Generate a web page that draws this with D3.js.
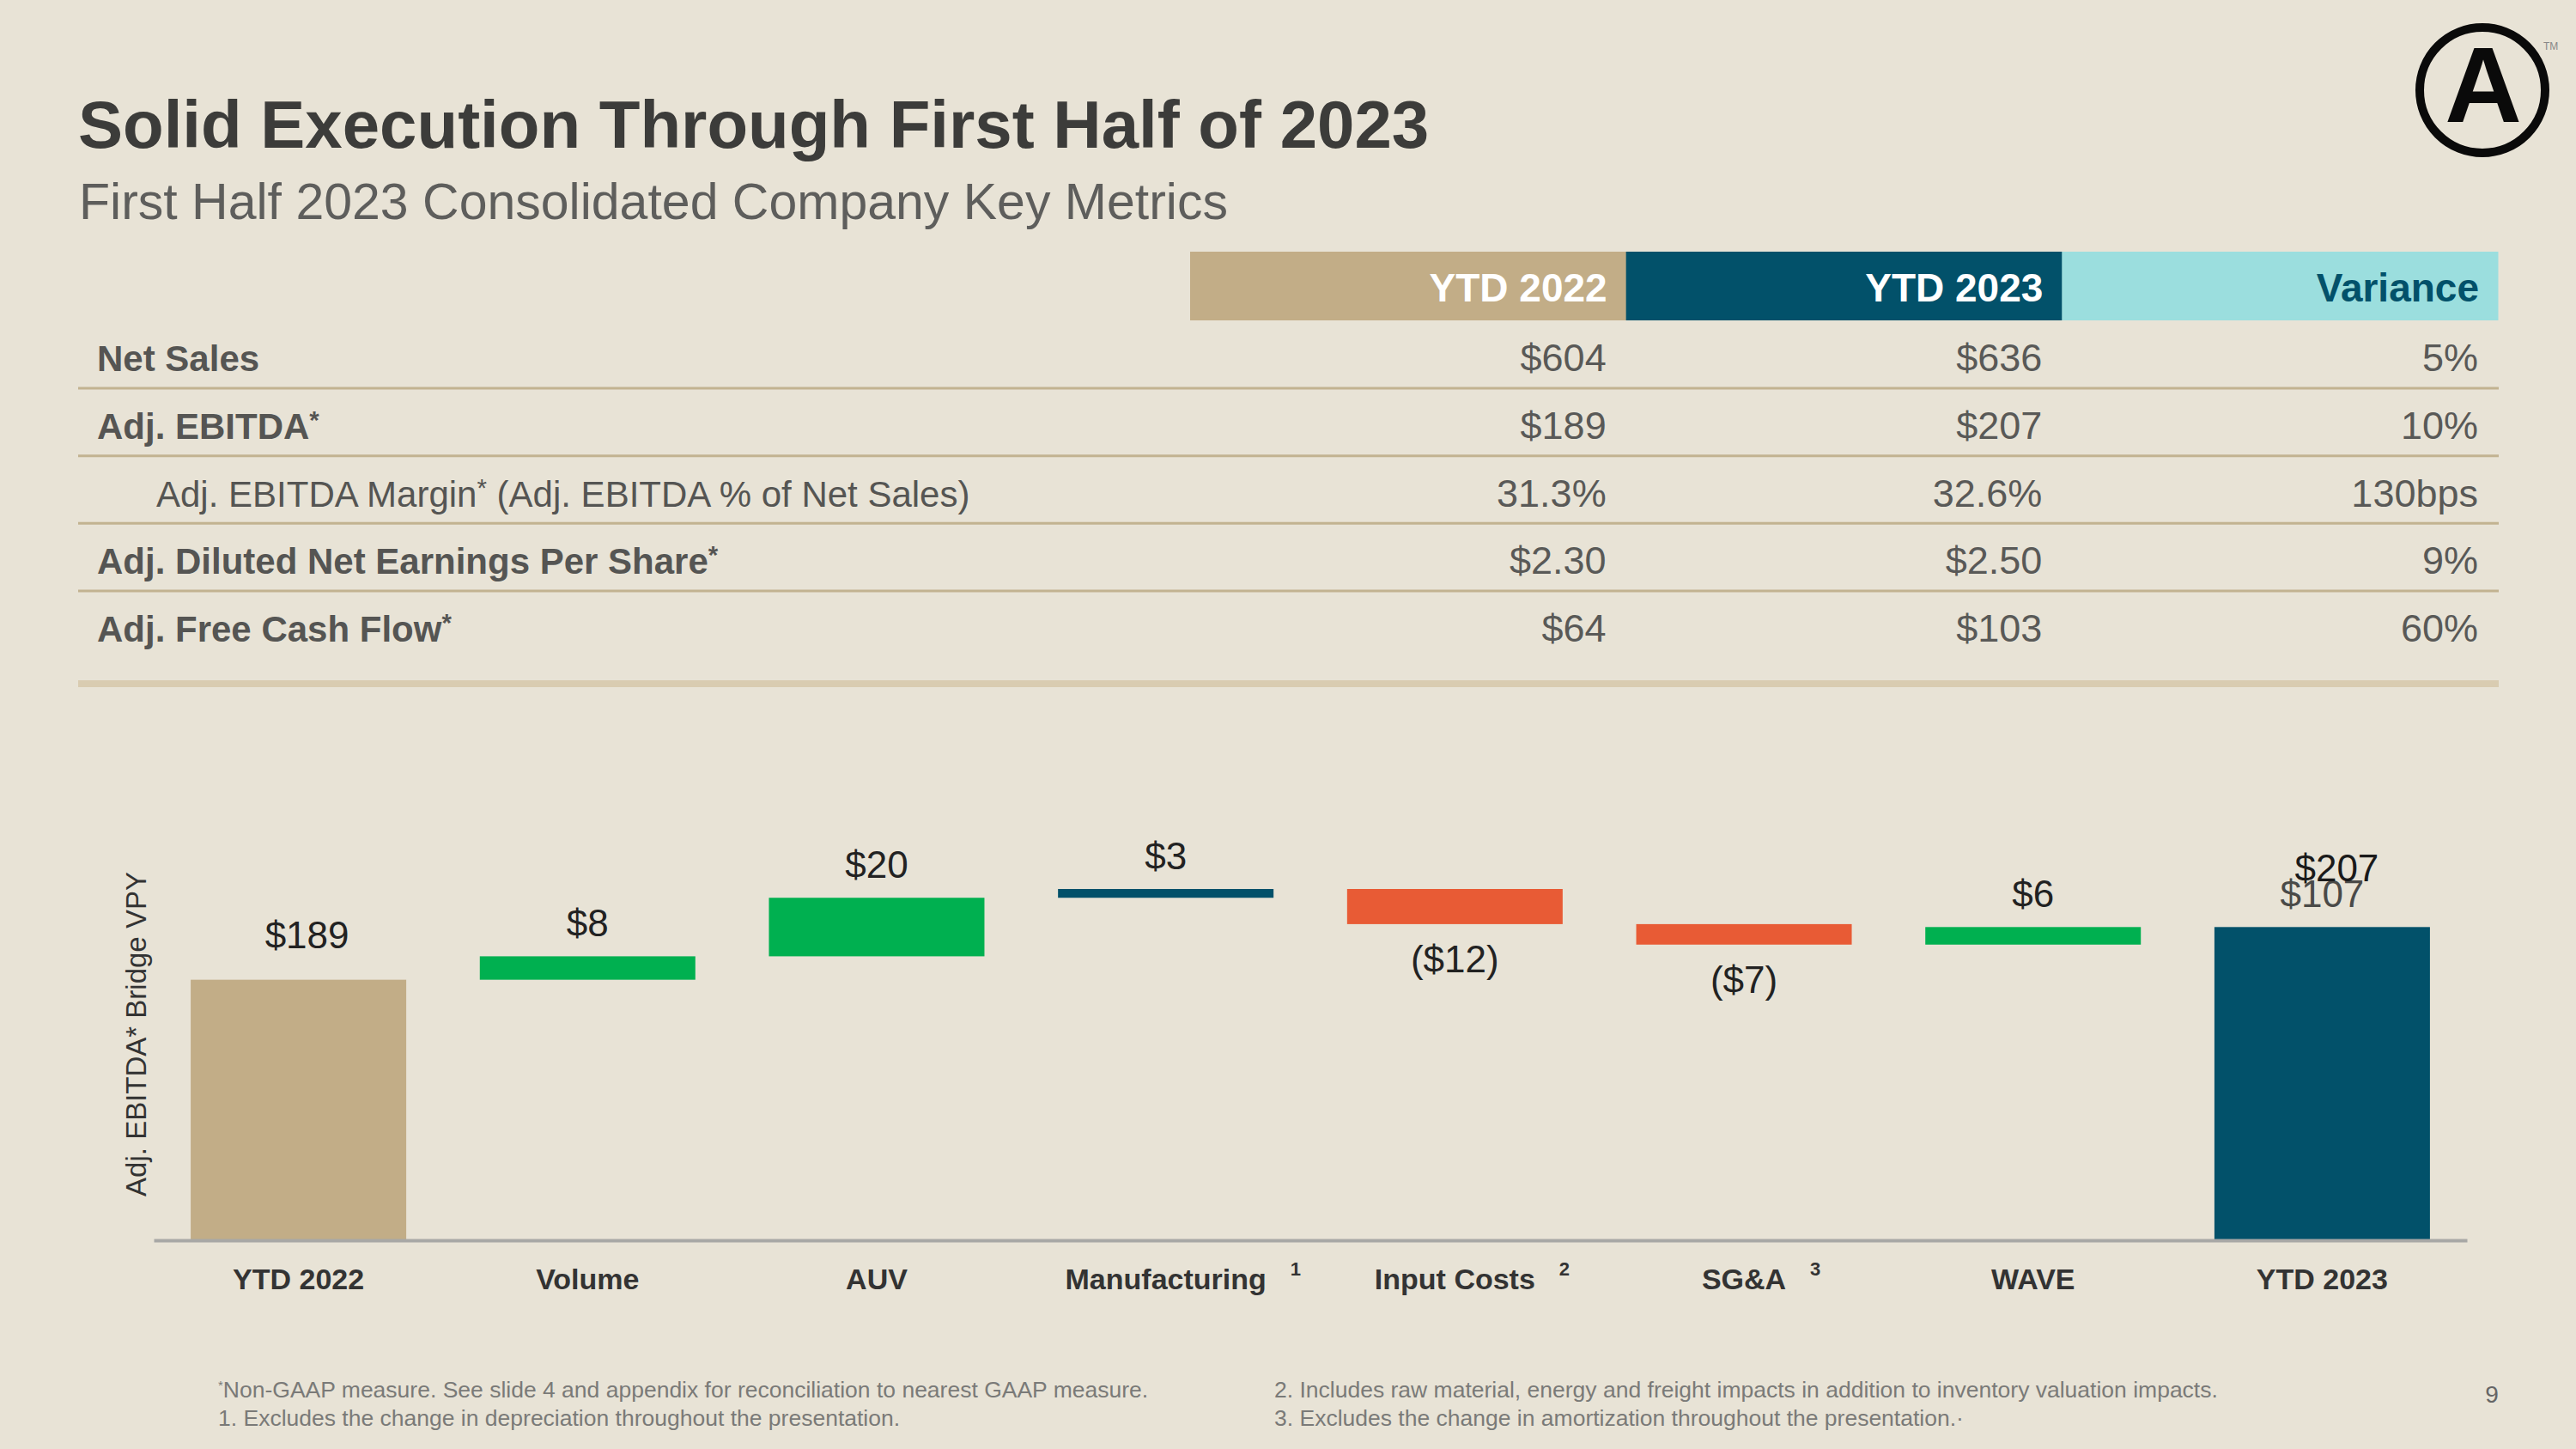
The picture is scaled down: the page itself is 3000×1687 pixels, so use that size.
<!DOCTYPE html>
<html>
<head>
<meta charset="utf-8">
<script src="https://cdn.jsdelivr.net/npm/d3@7"></script>
<style>
  body { margin: 0; background: #E8E3D6; }
  svg { display: block; font-family: "Liberation Sans", Arial, sans-serif; }
</style>
</head>
<body>
<div id="viz"></div>
<script>
// table values
var tableHeaders = ["YTD 2022", "YTD 2023", "Variance"];
var rowLabels = ["Net Sales", "Adj. EBITDA*", "Adj. EBITDA Margin* (Adj. EBITDA % of Net Sales)", "Adj. Diluted Net Earnings Per Share*", "Adj. Free Cash Flow*"];
var ytd2022 = ["$604", "$189", "31.3%", "$2.30", "$64"];
var ytd2023 = ["$636", "$207", "32.6%", "$2.50", "$103"];
var variance = ["5%", "10%", "130bps", "9%", "60%"];

// bridge values
var categories = ["YTD 2022", "Volume", "AUV", "Manufacturing", "Input Costs", "SG&A", "WAVE", "YTD 2023"];
var deltas = [189, 8, 20, 3, -12, -7, 6, 207];
var kinds = ["total", "up", "up", "flat", "down", "down", "up", "total"];
var barLabels = ["$189", "$8", "$20", "$3", "($12)", "($7)", "$6", "$107"];
var notes = ["", "", "", "1", "2", "3", "", ""];
var totalOverlay = "$207";

var footLeft = ["Non-GAAP measure. See slide 4 and appendix for reconciliation to nearest GAAP measure.", "1. Excludes the change in depreciation throughout the presentation."];
var footRight = ["2. Includes raw material, energy and freight impacts in addition to inventory valuation impacts.", "3. Excludes the change in amortization throughout the presentation.\u00b7"];

var W = 3000, H = 1687;
var colors = { total0: "#C2AD87", total1: "#02516A", up: "#00B050", down: "#E85B35", flat: "#02516A" };

var svg = d3.select("#viz").append("svg").attr("width", W).attr("height", H);
svg.append("rect").attr("width", W).attr("height", H).attr("fill", "#E8E3D6");

// title
svg.append("text").attr("x", 91).attr("y", 172)
	.attr("font-size", 78).attr("font-weight", "bold").attr("fill", "#3C3C3A")
	.text("Solid Execution Through First Half of 2023");
svg.append("text").attr("x", 92).attr("y", 255)
	.attr("font-size", 59).attr("fill", "#5E5E5C")
	.text("First Half 2023 Consolidated Company Key Metrics");

// logo
svg.append("circle").attr("cx", 2891).attr("cy", 105).attr("r", 73)
	.attr("fill", "none").attr("stroke", "#0A0A0A").attr("stroke-width", 10);
svg.append("text").attr("x", 2892).attr("y", 142).attr("text-anchor", "middle")
	.attr("font-size", 124).attr("font-weight", "bold").attr("fill", "#0A0A0A").text("A");
svg.append("text").attr("x", 2962).attr("y", 58).attr("font-size", 12).attr("fill", "#888").text("TM");

// helper: text with "*" rendered as superscript
function starText(sel, str){
	var parts = str.split("*");
	for (var i=0;i<parts.length;i++){
		if (i>0){
			sel.append("tspan").attr("dy", "-0.4em").attr("font-size", "0.7em").text("*");
			sel.append("tspan").attr("dy", "0.28em").text(parts[i]);
		} else {
			sel.append("tspan").text(parts[i]);
		}
	}
}

// table
var colX = d3.scaleBand().domain(tableHeaders).range([1386, 2909]);
var rowY = d3.scaleBand().domain(d3.range(rowLabels.length)).range([373, 766]);
var headFill = ["#C2AD87", "#02516A", "#9BDEDE"];
var headText = ["#FFFFFF", "#FFFFFF", "#02516A"];

var head = svg.append("g");
head.selectAll("rect").data(tableHeaders).enter().append("rect")
	.attr("x", function(d){ return colX(d); })
	.attr("y", 293)
	.attr("width", colX.bandwidth() + 0.5)
	.attr("height", 80)
	.attr("fill", function(d, i){ return headFill[i]; });
head.selectAll("text").data(tableHeaders).enter().append("text")
	.attr("x", function(d){ return colX(d) + colX.bandwidth() - 22; })
	.attr("y", 351)
	.attr("text-anchor", "end")
	.attr("font-size", 46).attr("font-weight", "bold")
	.attr("fill", function(d, i){ return headText[i]; })
	.text(function(d){ return d; });

var rows = svg.append("g").selectAll("g").data(rowLabels).enter().append("g");
rows.each(function(label, i){
	var g = d3.select(this);
	var base = rowY(i) + rowY.bandwidth()/2 + 20;
	var sub = label.indexOf("Margin") >= 0;
	var t = g.append("text")
		.attr("x", sub ? 182 : 113).attr("y", base)
		.attr("font-size", 42).attr("font-weight", sub ? "normal" : "bold")
		.attr("fill", "#555553");
	starText(t, label);
	var vals = [ytd2022[i], ytd2023[i], variance[i]];
	g.selectAll("text.v").data(vals).enter().append("text")
		.attr("class", "v")
		.attr("x", function(d, j){ return colX(tableHeaders[j]) + colX.bandwidth() - 23; })
		.attr("y", base)
		.attr("text-anchor", "end")
		.attr("font-size", 45).attr("fill", "#595957")
		.text(function(d){ return d; });
	if (i < rowLabels.length - 1){
		g.append("line")
			.attr("x1", 91).attr("x2", 2910)
			.attr("y1", rowY(i) + rowY.bandwidth() + 0.5).attr("y2", rowY(i) + rowY.bandwidth() + 0.5)
			.attr("stroke", "#C2B391").attr("stroke-width", 3);
	}
});
svg.append("rect").attr("x", 91).attr("y", 792).attr("width", 2819).attr("height", 8).attr("fill", "#D9CCB1");

// bridge chart (value axis starts at 100)
var x = d3.scaleBand().domain(categories).range([179, 2873]).paddingInner(0.2545).paddingOuter(0.128);
var y = d3.scaleLinear().domain([100, 220]).range([1444, 1035]);

var run = 0;
var steps = categories.map(function(c, i){
	var s;
	if (kinds[i] === "total"){
		s = { cat: c, lo: 100, hi: deltas[i], kind: kinds[i], i: i };
		run = deltas[i];
	} else {
		var next = run + deltas[i];
		s = { cat: c, lo: Math.min(run, next), hi: Math.max(run, next), kind: kinds[i], i: i };
		run = next;
	}
	return s;
});

function barColor(s){
	if (s.kind === "total") return s.i === 0 ? colors.total0 : colors.total1;
	return colors[s.kind];
}

var bars = svg.append("g");
bars.selectAll("rect").data(steps).enter().append("rect")
	.attr("x", function(s){ return x(s.cat); })
	.attr("y", function(s){ return y(s.hi); })
	.attr("width", x.bandwidth())
	.attr("height", function(s){ return y(s.lo) - y(s.hi); })
	.attr("fill", barColor);

bars.selectAll("text").data(steps).enter().append("text")
	.attr("x", function(s){ return x(s.cat) + x.bandwidth()/2 + (s.i === 0 ? 10 : 0); })
	.attr("y", function(s){
		if (s.kind === "down") return y(s.lo) + 56;
		return y(s.hi) - (s.i === 0 ? 37 : 23);
	})
	.attr("text-anchor", "middle")
	.attr("font-size", 44)
	.attr("fill", function(s){ return s.i === categories.length - 1 ? "#4A4A48" : "#222"; })
	.text(function(s){ return barLabels[s.i]; });

var last = steps[steps.length - 1];
bars.append("text")
	.attr("x", x(last.cat) + x.bandwidth()/2 + 17)
	.attr("y", y(last.hi) - 53)
	.attr("text-anchor", "middle")
	.attr("font-size", 44).attr("fill", "#1A1A1A")
	.text(totalOverlay);

var axis = svg.append("g")
	.attr("transform", "translate(0," + y(100) + ")")
	.call(d3.axisBottom(x).tickSize(0).tickSizeOuter(0));
axis.select(".domain").attr("stroke", "#A8A8A6").attr("stroke-width", 4);
axis.selectAll(".tick text")
	.attr("y", 57).attr("dy", null)
	.attr("font-family", "Liberation Sans, Arial, sans-serif")
	.attr("font-size", 34).attr("font-weight", "bold").attr("fill", "#333");
axis.selectAll(".tick").each(function(c, i){
	if (!notes[i]) return;
	var w = d3.select(this).select("text").node().getComputedTextLength();
	d3.select(this).append("text")
		.attr("x", w/2 + 34).attr("y", 41)
		.attr("font-family", "Liberation Sans, Arial, sans-serif")
		.attr("font-size", 22).attr("font-weight", "bold").attr("fill", "#333")
		.text(notes[i]);
});

svg.append("text")
	.attr("transform", "translate(170," + 1204 + ") rotate(-90)")
	.attr("text-anchor", "middle")
	.attr("font-size", 33).attr("fill", "#333")
	.text("Adj. EBITDA* Bridge VPY");

// footnotes
var foot = svg.append("g").attr("font-size", 26.5).attr("fill", "#7A7A78");
var f0 = foot.append("text").attr("x", 254).attr("y", 1627);
f0.append("tspan").attr("font-size", 15).attr("dy", -9).text("*");
f0.append("tspan").attr("dy", 9).text(footLeft[0]);
foot.append("text").attr("x", 254).attr("y", 1660).text(footLeft[1]);
foot.selectAll("text.r").data(footRight).enter().append("text")
	.attr("class", "r")
	.attr("x", 1484).attr("y", function(d, i){ return 1627 + i*33; })
	.text(function(d){ return d; });
svg.append("text").attr("x", 2902).attr("y", 1633).attr("text-anchor", "middle")
	.attr("font-size", 28).attr("fill", "#666").text("9");
</script>
</body>
</html>
